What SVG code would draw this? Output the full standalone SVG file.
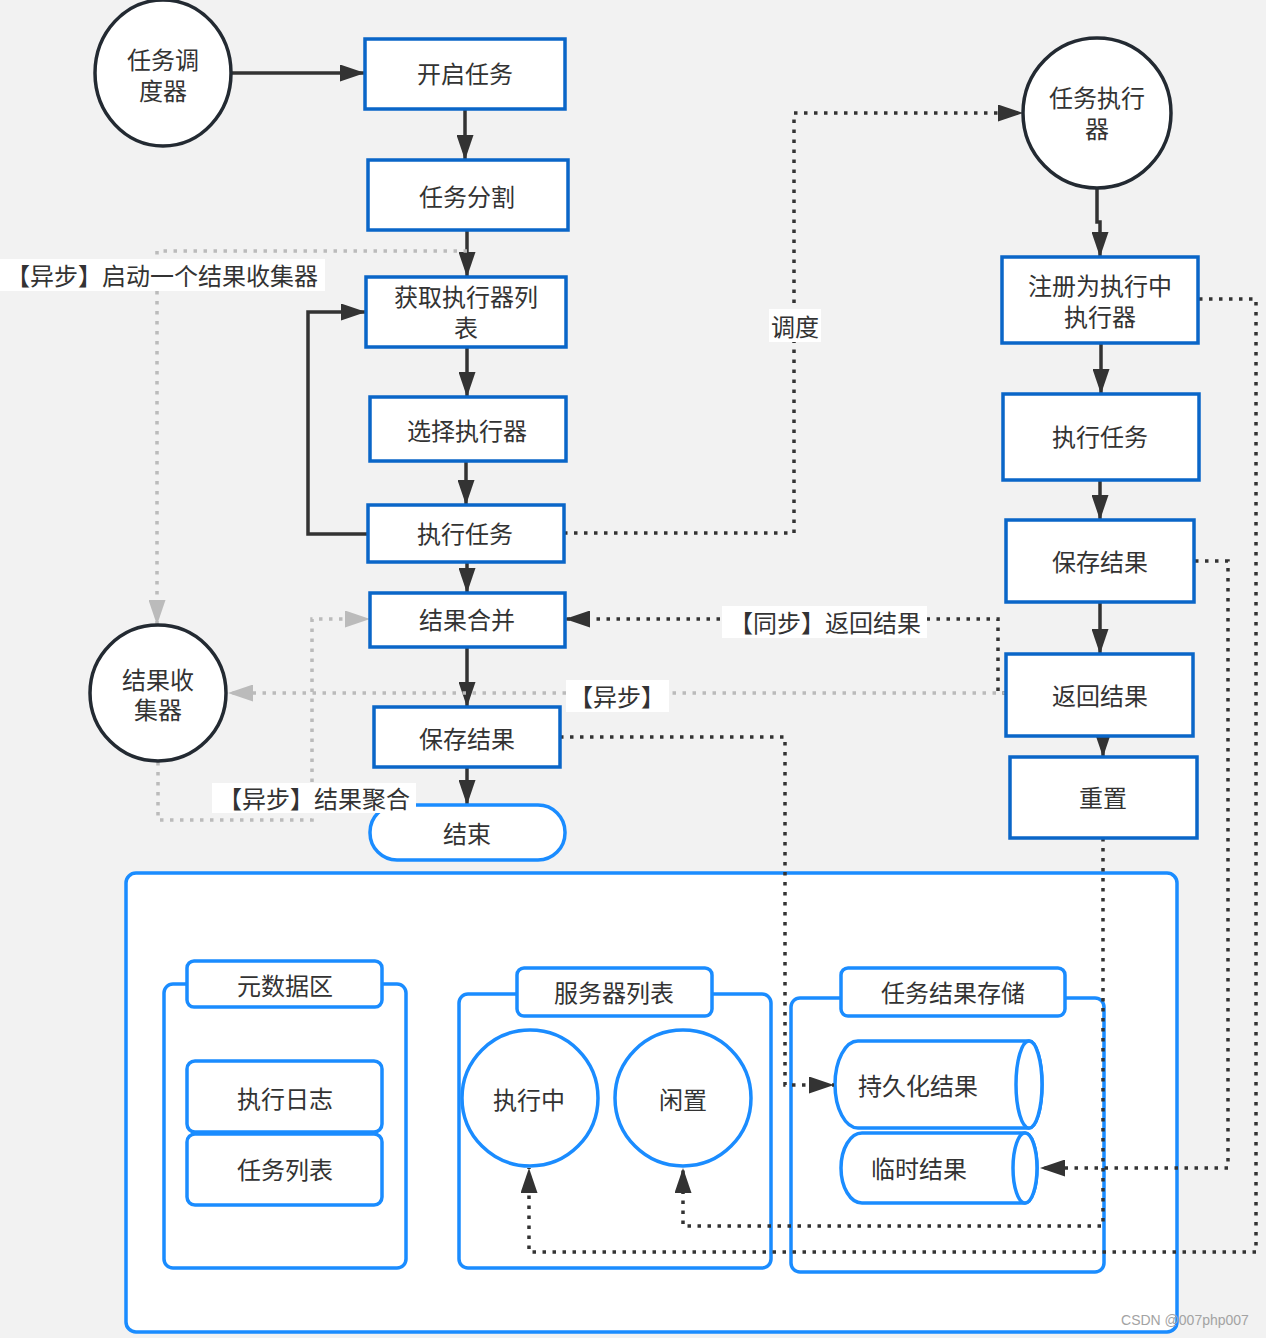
<svg xmlns="http://www.w3.org/2000/svg" width="1266" height="1338" viewBox="0 0 1266 1338">
<defs>
<marker id="ah" markerUnits="userSpaceOnUse" markerWidth="25" markerHeight="17" refX="25" refY="8.5" orient="auto"><path d="M0,0 L25,8.5 L0,17 Z" fill="#333"/></marker>
<marker id="ahg" markerUnits="userSpaceOnUse" markerWidth="25" markerHeight="17" refX="25" refY="8.5" orient="auto"><path d="M0,0 L25,8.5 L0,17 Z" fill="#bbb"/></marker>
<style>
text{font-family:"Noto Sans CJK SC","Noto Sans",sans-serif;font-size:24px;fill:#333;text-anchor:middle;dominant-baseline:central}
.box{fill:#fff;stroke:#0a66c8;stroke-width:3.5}
.bbox{fill:#fff;stroke:#1a8cff;stroke-width:3.5}
.circ{fill:#fff;stroke:#232a32;stroke-width:3.5}
.solid{fill:none;stroke:#333;stroke-width:3.5;marker-end:url(#ah)}
.dot{fill:none;stroke:#333;stroke-width:3.5;stroke-dasharray:3.5 6.5;marker-end:url(#ah)}
.gdot{fill:none;stroke:#bbb;stroke-width:3.5;stroke-dasharray:3.5 6.5;marker-end:url(#ahg)}
.lbl{fill:#fff}
</style>
</defs>
<rect width="1266" height="1338" fill="#f2f2f2"/>

<g id="storage-area">
<rect x="126" y="873" width="1051" height="459" rx="10" class="bbox"/>
<g id="metadata">
<rect x="164" y="984" width="242" height="284" rx="9" class="bbox"/>
<rect x="187" y="961" width="195" height="46" rx="7" class="bbox"/>
<text x="285" y="984">元数据区</text>
</g>
<g id="exec-log"><rect x="187" y="1061" width="195" height="71" rx="8" class="bbox"/><text x="285" y="1097">执行日志</text></g>
<g id="task-list"><rect x="187" y="1134" width="195" height="71" rx="8" class="bbox"/><text x="285" y="1168">任务列表</text></g>
<g id="server-list">
<rect x="459" y="994" width="312" height="274" rx="9" class="bbox"/>
<rect x="517" y="968" width="195" height="48" rx="7" class="bbox"/>
<text x="614" y="991">服务器列表</text>
</g>
<g id="running"><circle cx="530" cy="1098" r="68" class="bbox"/><text x="529" y="1098">执行中</text></g>
<g id="idle"><circle cx="683" cy="1098" r="68" class="bbox"/><text x="683" y="1098">闲置</text></g>
<g id="result-store">
<rect x="791" y="998" width="313" height="274" rx="9" class="bbox"/>
<rect x="841" y="968" width="224" height="48" rx="7" class="bbox"/>
<text x="953" y="991">任务结果存储</text>
</g>
<g id="persist">
<path d="M858,1041 L1029,1041 A13,43.5 0 0 1 1029,1128 L858,1128 A23,43.5 0 0 1 858,1041 Z" class="bbox"/>
<ellipse cx="1029" cy="1084.5" rx="13" ry="43.5" class="bbox"/>
<text x="918" y="1084">持久化结果</text>
</g>
<g id="temp">
<path d="M862,1133 L1025,1133 A12,35 0 0 1 1025,1203 L862,1203 A21,35 0 0 1 862,1133 Z" class="bbox"/>
<ellipse cx="1025" cy="1168" rx="12" ry="35" class="bbox"/>
<text x="919" y="1167">临时结果</text>
</g>
</g>

<g id="connectors">
<path class="solid" d="M231,73 L365,73"/>
<path class="solid" d="M465,109 L465,160"/>
<path class="solid" d="M467,230 L467,277"/>
<path class="solid" d="M467,347 L467,397"/>
<path class="solid" d="M466,461 L466,505"/>
<path class="solid" d="M467,562 L467,593"/>
<path class="solid" d="M467,647 L467,707"/>
<path class="solid" d="M467,767 L467,805"/>
<path class="solid" d="M368,534 L308,534 L308,312 L366,312"/>
<path class="solid" d="M1097,187 L1097,222 L1100,222 L1100,257"/>
<path class="solid" d="M1101,343 L1101,394"/>
<path class="solid" d="M1100,480 L1100,520"/>
<path class="solid" d="M1100,602 L1100,654"/>
<path class="solid" d="M1103,736 L1103,757"/>
<path class="dot" d="M564,533 L794,533 L794,113 L1023,113"/>
<path class="dot" d="M1006,693 L998,693 L998,619 L565,619"/>
<path class="gdot" d="M1006,693 L228,693"/>
<path class="gdot" d="M467,251 L157,251 L157,625"/>
<path class="gdot" d="M158,762 L158,820 L312,820 L312,619 L370,619"/>
<path class="dot" d="M560,737 L785,737 L785,1085 L834,1085"/>
<path class="dot" d="M1195,561 L1228,561 L1228,1168 L1040,1168"/>
<path class="dot" d="M1199,299 L1256,299 L1256,1252 L529,1252 L529,1168"/>
<path class="dot" d="M1103,838 L1103,1226 L683,1226 L683,1168"/>
</g>

<g id="scheduler"><ellipse cx="163" cy="73" rx="68" ry="73" class="circ"/><text x="163" y="58">任务调<tspan x="163" dy="31">度器</tspan></text></g>
<g id="start-task"><rect x="365" y="39" width="200" height="70" class="box"/><text x="465" y="72">开启任务</text></g>
<g id="split-task"><rect x="368" y="160" width="200" height="70" class="box"/><text x="467" y="195">任务分割</text></g>
<g id="get-executors"><rect x="366" y="277" width="200" height="70" class="box"/><text x="466" y="295">获取执行器列<tspan x="466" dy="31">表</tspan></text></g>
<g id="select-executor"><rect x="370" y="397" width="196" height="64" class="box"/><text x="467" y="429">选择执行器</text></g>
<g id="exec-task-left"><rect x="368" y="505" width="196" height="57" class="box"/><text x="465" y="532">执行任务</text></g>
<g id="merge"><rect x="370" y="593" width="195" height="54" class="box"/><text x="467" y="618">结果合并</text></g>
<g id="save-left"><rect x="374" y="707" width="186" height="60" class="box"/><text x="467" y="737">保存结果</text></g>
<g id="end"><rect x="370" y="805" width="195" height="55" rx="27" class="bbox"/><text x="467" y="832">结束</text></g>
<g id="collector"><ellipse cx="158" cy="693" rx="68" ry="68" class="circ"/><text x="158" y="678">结果收<tspan x="158" dy="30">集器</tspan></text></g>
<g id="executor"><ellipse cx="1097" cy="113" rx="74" ry="75" class="circ"/><text x="1097" y="96">任务执行<tspan x="1097" dy="31">器</tspan></text></g>
<g id="register"><rect x="1002" y="257" width="196" height="86" class="box"/><text x="1100" y="284">注册为执行中<tspan x="1100" dy="31">执行器</tspan></text></g>
<g id="exec-task-right"><rect x="1003" y="394" width="196" height="86" class="box"/><text x="1100" y="435">执行任务</text></g>
<g id="save-right"><rect x="1006" y="520" width="188" height="82" class="box"/><text x="1100" y="560">保存结果</text></g>
<g id="return-result"><rect x="1006" y="654" width="187" height="82" class="box"/><text x="1100" y="694">返回结果</text></g>
<g id="reset"><rect x="1010" y="757" width="187" height="81" class="box"/><text x="1103" y="796">重置</text></g>

<g id="labels">
<rect x="0" y="259" width="325" height="32" class="lbl"/><text x="162" y="274">【异步】启动一个结果收集器</text>
<rect x="769" y="309" width="52" height="33" class="lbl"/><text x="795" y="325">调度</text>
<rect x="722" y="606" width="205" height="32" class="lbl"/><text x="825" y="621">【同步】返回结果</text>
<rect x="566" y="680" width="103" height="32" class="lbl"/><text x="617" y="695">【异步】</text>
<rect x="212" y="783" width="204" height="30" class="lbl"/><text x="314" y="797">【异步】结果聚合</text>
</g>
<text x="1185" y="1320" style="font-family:'Liberation Sans',sans-serif;font-size:14px;fill:#a3a3a3">CSDN @007php007</text>
</svg>
